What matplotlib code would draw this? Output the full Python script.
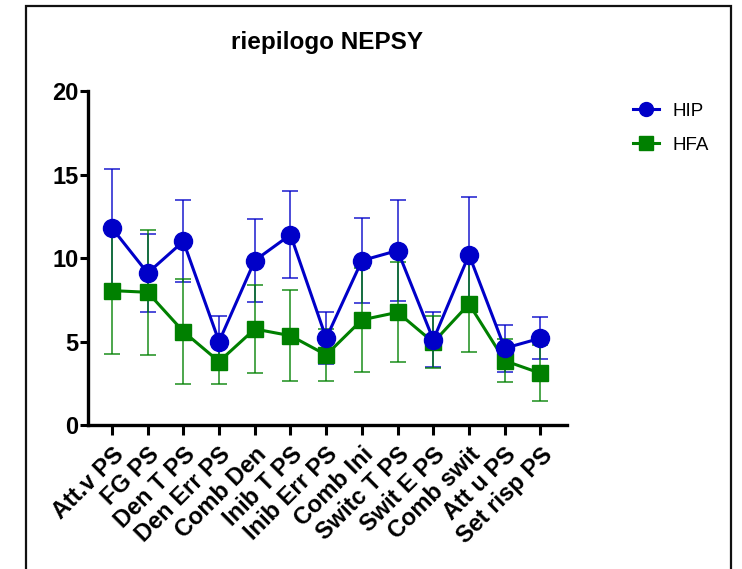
import numpy as np
import matplotlib
matplotlib.use('Agg')
import matplotlib.pyplot as plt
from matplotlib.lines import Line2D
from matplotlib.patches import Rectangle

# data
labels = ['Att.v PS', 'FG PS', 'Den T PS', 'Den Err PS', 'Comb Den', 'Inib T PS',
          'Inib Err PS', 'Comb Ini', 'Switc T PS', 'Swit E PS', 'Comb swit',
          'Att u PS', 'Set risp PS']
hip_mean = [11.8, 9.1, 11.0, 5.0, 9.85, 11.4, 5.2, 9.85, 10.45, 5.1, 10.2, 4.6, 5.2]
hip_sd = [3.55, 2.35, 2.45, 1.55, 2.5, 2.6, 1.55, 2.55, 3.0, 1.65, 3.45, 1.4, 1.25]
hfa_mean = [8.05, 7.95, 5.6, 3.8, 5.75, 5.35, 4.2, 6.3, 6.75, 4.95, 7.25, 3.85, 3.1]
hfa_sd = [3.8, 3.75, 3.15, 1.33, 2.62, 2.72, 1.57, 3.1, 3.0, 1.55, 2.9, 1.3, 1.68]

plt.rcParams['font.family'] = ['Liberation Sans', 'DejaVu Sans']

blue = '#0000C8'
green = '#008000'

fig = plt.figure(figsize=(7.42, 5.69), dpi=100)
ax = fig.add_axes([0.1186, 0.253, 0.6454, 0.587])

x = np.arange(len(labels))
ax.errorbar(x, hip_mean, yerr=hip_sd, fmt='none', ecolor=blue, alpha=0.7,
            elinewidth=1.4, capsize=6, capthick=1.4, zorder=2)
ax.errorbar(x, hfa_mean, yerr=hfa_sd, fmt='none', ecolor=green, alpha=0.7,
            elinewidth=1.4, capsize=6, capthick=1.4, zorder=2)
ax.plot(x, hfa_mean, color=green, lw=2.2, marker='s', ms=11.5, zorder=3)
ax.plot(x, hip_mean, color=blue, lw=2.2, marker='o', ms=13, zorder=4)

ax.set_xlim(-0.67, 12.74)
ax.set_ylim(0, 20)
ax.set_yticks([0, 5, 10, 15, 20])
ax.set_xticks(x)
ax.set_xticklabels(labels, rotation=45, ha='right', rotation_mode='anchor',
                   fontsize=17, fontweight='bold')
for t in ax.get_yticklabels():
    t.set_fontweight('bold')
ax.tick_params(axis='y', labelsize=17, width=2.2, length=6, pad=1)
ax.tick_params(axis='x', width=2.2, length=7, pad=6)
ax.spines['top'].set_visible(False)
ax.spines['right'].set_visible(False)
ax.spines['left'].set_linewidth(2.4)
ax.spines['bottom'].set_linewidth(2.4)

ax.set_title('riepilogo NEPSY', fontsize=17.5, fontweight='bold', pad=30)

handles = [Line2D([], [], color=blue, lw=2.2, marker='o', ms=10),
           Line2D([], [], color=green, lw=2.2, marker='s', ms=10)]
fig.legend(handles, ['HIP', 'HFA'], loc='upper left', bbox_to_anchor=(0.830, 0.849),
           frameon=False, fontsize=13.5, handlelength=1.4, labelspacing=0.9,
           handletextpad=0.7)

# outer frame (open at the bottom)
fig.patches.append(Rectangle((26 / 742, -0.05), (731 - 26) / 742, 1 - 6 / 569 + 0.05,
                             transform=fig.transFigure, fill=False,
                             edgecolor='#111111', lw=1.6))

fig.savefig('out.png', dpi=100)
